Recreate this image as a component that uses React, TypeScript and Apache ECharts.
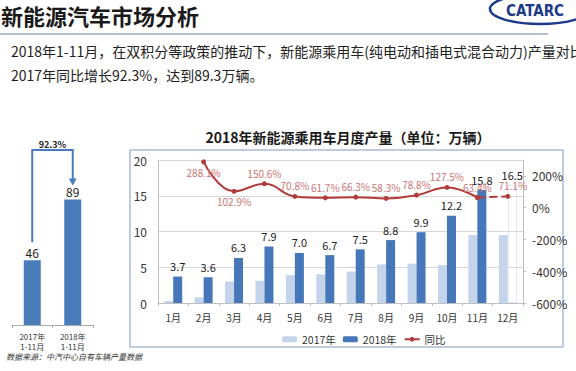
import React, { useEffect, useRef } from 'react';
import * as echarts from 'echarts';

const months = ['1月', '2月', '3月', '4月', '5月', '6月', '7月', '8月', '9月', '10月', '11月', '12月'];
const output2017 = [0.3, 0.8, 3.0, 3.1, 3.9, 4.0, 4.4, 5.4, 5.5, 5.3, 9.5, 9.5];
const output2018 = [3.7, 3.6, 6.3, 7.9, 7.0, 6.7, 7.5, 8.8, 9.9, 12.2, 15.8, 16.5];
const yoyRate: (number | null)[] = [null, 288.1, 102.9, 150.6, 70.8, 61.7, 66.3, 58.3, 78.8, 127.5, 63.4, 71.1];
const ytdCategories = ['2017年\n1-11月', '2018年\n1-11月'];
const ytdValues = [46, 89];
const ytdGrowth = '92.3%';

const FONT = '"Noto Sans CJK SC", "Noto Sans", sans-serif';
const C2017 = '#c4d5eb';
const C2018 = '#4677b8';
const CLINE = '#b23b3b';
const CLABEL = '#cc7472';

export default function App() {
  const ref = useRef<HTMLDivElement>(null);
  useEffect(() => {
    if (!ref.current) return;
    const chart = echarts.init(ref.current, undefined, { renderer: 'svg' });
    const lastSolid = 10;
    const belowIdx = new Set([1, 2]);
    const option: any = {
      animation: false,
      textStyle: { fontFamily: FONT },
      grid: [
        { left: 158, top: 160, width: 365, height: 143 },
        { left: 12, top: 184, width: 81, height: 141 },
      ],
      legend: {
        data: ['2017年', '2018年', '同比'],
        left: 277,
        top: 329,
        itemWidth: 15,
        itemHeight: 6,
        itemGap: 7,
        textStyle: { fontSize: 10.5, color: '#333', fontFamily: FONT },
      },
      xAxis: [
        {
          type: 'category',
          gridIndex: 0,
          data: months,
          axisLine: { lineStyle: { color: '#bfbfbf' } },
          axisTick: { show: true, length: 3, lineStyle: { color: '#bfbfbf' } },
          axisLabel: { fontSize: 10, color: '#333', margin: 9 },
        },
        {
          type: 'category',
          gridIndex: 1,
          data: ytdCategories,
          axisLine: { lineStyle: { color: '#aaaaaa' } },
          axisTick: { show: true, length: 3, lineStyle: { color: '#aaaaaa' } },
          axisLabel: { fontSize: 8, color: '#333', margin: 6, lineHeight: 10 },
        },
      ],
      yAxis: [
        {
          type: 'value',
          gridIndex: 0,
          min: 0,
          max: 20,
          interval: 5,
          axisLine: { show: true, lineStyle: { color: '#bfbfbf' } },
          axisTick: { show: false },
          axisLabel: { fontSize: 12, color: '#333', margin: 11 },
          splitLine: { lineStyle: { color: '#d6d6d6' } },
        },
        {
          type: 'value',
          gridIndex: 0,
          position: 'right',
          min: -600,
          max: 300,
          interval: 200,
          axisLine: { show: true, lineStyle: { color: '#bfbfbf' } },
          axisTick: { show: true, length: 3, lineStyle: { color: '#bfbfbf' } },
          axisLabel: { fontSize: 12, color: '#333', margin: 9, showMaxLabel: false, formatter: (v: number) => v + '%' },
          splitLine: { show: false },
        },
        {
          type: 'value',
          gridIndex: 1,
          min: 0,
          max: 100,
          show: false,
        },
      ],
      series: [
        {
          name: '2017年',
          type: 'bar',
          xAxisIndex: 0,
          yAxisIndex: 0,
          data: output2017,
          barWidth: 9,
          barGap: '0%',
          itemStyle: { color: C2017 },
        },
        {
          name: '2018年',
          type: 'bar',
          xAxisIndex: 0,
          yAxisIndex: 0,
          barWidth: 9,
          data: output2018.map((v, i) =>
            i === output2018.length - 1
              ? { value: v, itemStyle: { color: 'rgba(255,255,255,0)', borderColor: '#dfe7f2', borderWidth: 1 } }
              : v
          ),
          itemStyle: { color: C2018 },
          label: { show: true, position: 'top', fontSize: 11, color: '#222', distance: 5, formatter: (p: any) => Number(p.value).toFixed(1) },
        },
        {
          name: '同比',
          type: 'line',
          xAxisIndex: 0,
          yAxisIndex: 1,
          smooth: 0.45,
          symbol: 'circle',
          symbolSize: 5,
          z: 5,
          data: yoyRate.map((v, i) =>
            i <= lastSolid
              ? { value: v, label: { position: belowIdx.has(i) ? 'bottom' : 'top' } }
              : null
          ),
          lineStyle: { color: CLINE, width: 2 },
          itemStyle: { color: CLINE },
          label: {
            show: true,
            fontSize: 10,
            color: CLABEL,
            distance: 3,
            formatter: (p: any) => (p.value == null ? '' : Number(p.value).toFixed(1) + '%'),
          },
        },
        {
          name: '同比预估',
          type: 'line',
          xAxisIndex: 0,
          yAxisIndex: 1,
          symbol: 'circle',
          symbolSize: 5,
          z: 5,
          data: yoyRate.map((v, i) => (i >= lastSolid ? v : null)),
          lineStyle: { color: CLINE, width: 2, type: 'dashed' },
          itemStyle: { color: CLINE },
          label: {
            show: true,
            position: 'top',
            offset: [5, 0],
            fontSize: 10,
            color: CLABEL,
            distance: 3,
            formatter: (p: any) => (p.dataIndex === lastSolid || p.value == null ? '' : Number(p.value).toFixed(1) + '%'),
          },
        },
        {
          name: '1-11月产量',
          type: 'bar',
          xAxisIndex: 1,
          yAxisIndex: 2,
          data: ytdValues,
          barWidth: 17,
          itemStyle: { color: '#4a7bba' },
          label: { show: true, position: 'top', fontSize: 12, color: '#222', distance: 2 },
        },
      ],
    };
    chart.setOption(option);

    const pA = chart.convertToPixel({ xAxisIndex: 1, yAxisIndex: 2 }, [0, ytdValues[0]]) as number[];
    const pB = chart.convertToPixel({ xAxisIndex: 1, yAxisIndex: 2 }, [1, ytdValues[1]]) as number[];
    const topY = 150;
    const arrowEnd = pB[1] - 15;

    chart.setOption({
      graphic: [
        {
          type: 'text', left: 1, top: 4,
          style: { text: '新能源汽车市场分析', fontSize: 22, fontWeight: 'bold', fill: '#1a1a1a', fontFamily: FONT },
        },
        {
          type: 'line', shape: { x1: 0, y1: 34, x2: 548, y2: 34 },
          style: { stroke: '#b3c0d2', lineWidth: 2 },
        },
        {
          type: 'ellipse', shape: { cx: 540, cy: 9, rx: 50, ry: 15 },
          style: { fill: '#fff', stroke: '#1e3a8a', lineWidth: 2.5 },
        },
        {
          type: 'text', x: 535, y: 11,
          style: { text: 'CATARC', fontSize: 15, fontWeight: 'bold', fill: '#1e3a8a', fontFamily: 'DejaVu Sans Condensed, sans-serif', align: 'center', verticalAlign: 'middle' },
        },
        {
          type: 'text', x: 11, y: 51,
          style: { text: '2018年1-11月，在双积分等政策的推动下，新能源乘用车(纯电动和插电式混合动力)产量对比', fontSize: 14, fill: '#222', fontFamily: FONT, verticalAlign: 'middle' },
        },
        {
          type: 'text', x: 11, y: 75,
          style: { text: '2017年同比增长92.3%，达到89.3万辆。', fontSize: 14, fill: '#222', fontFamily: FONT, verticalAlign: 'middle' },
        },
        {
          type: 'rect', z: -10, shape: { x: 130, y: 150, width: 433, height: 197 },
          style: { fill: 'none', stroke: '#aabcd6', lineWidth: 1.5 },
        },
        {
          type: 'text', x: 348, y: 137,
          style: { text: '2018年新能源乘用车月度产量（单位：万辆）', fontSize: 14, fontWeight: 'bold', fill: '#1a1a1a', fontFamily: FONT, align: 'center', verticalAlign: 'middle' },
        },
        {
          type: 'polyline',
          shape: { points: [[pA[0], pA[1] - 18], [pA[0], topY], [pB[0], topY], [pB[0], arrowEnd - 5]] },
          style: { stroke: '#4a7bba', lineWidth: 2, fill: 'none' },
        },
        {
          type: 'polygon',
          shape: { points: [[pB[0] - 4, arrowEnd - 6], [pB[0] + 4, arrowEnd - 6], [pB[0], arrowEnd + 1]] },
          style: { fill: '#4a7bba' },
        },
        {
          type: 'text', x: (pA[0] + pB[0]) / 2, y: topY - 6,
          style: { text: ytdGrowth, fontSize: 9, fontWeight: 'bold', fill: '#222', fontFamily: FONT, align: 'center', verticalAlign: 'middle' },
        },
        {
          type: 'text', x: 6, y: 356,
          style: { text: '数据来源：中汽中心自有车辆产量数据', fontSize: 8, fontStyle: 'italic', fill: '#333', fontFamily: FONT, verticalAlign: 'middle' },
        },
      ],
    });

    return () => chart.dispose();
  }, []);
  return <div ref={ref} style={{ position: 'fixed', left: 0, top: 0, width: 576, height: 371, background: '#fff' }} />;
}
